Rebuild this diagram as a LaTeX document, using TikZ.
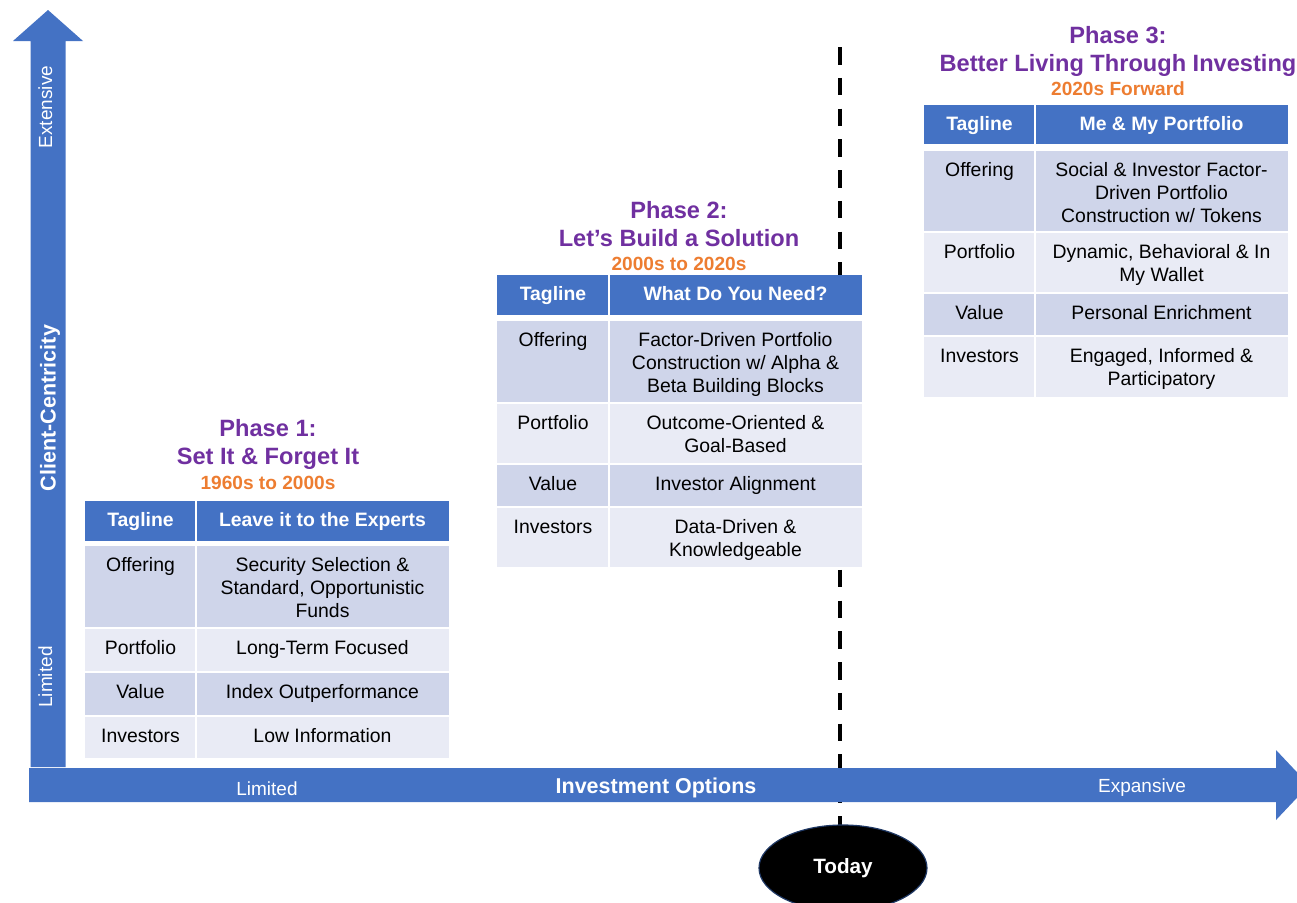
\documentclass[tikz,border=0pt]{standalone}
\usepackage{fontspec}
\setmainfont{Liberation Sans}
\usetikzlibrary{shapes.geometric}

\definecolor{axisblue}{HTML}{4472C4}
\definecolor{rowdark}{HTML}{CFD5EA}
\definecolor{rowlight}{HTML}{E9EBF5}
\definecolor{phasepurple}{HTML}{7030A0}
\definecolor{eraorange}{HTML}{ED7D31}
\definecolor{todayedge}{HTML}{1F3864}

\newcommand{\cellstrut}{\rule{0pt}{18pt}}

% one table row: name, left, divider, right, top, bottom, fill, label, value
\newcommand{\trow}[9]{%
  \fill[#7] (#2,#5) rectangle ({#3-1},#6);
  \fill[#7] ({#3+1},#5) rectangle (#4,#6);
  \node[celltext] (#1-l) at ({(#2+#3)/2},{#5+7.5}) {\cellstrut #8};
  \node[celltext] (#1-v) at ({(#3+#4)/2},{#5+7.5}) {\cellstrut #9};
}
% header row: name, left, divider, right, top, bottom, value
\newcommand{\thead}[7]{%
  \fill[axisblue] (#2,#5) rectangle ({#3-1},#6);
  \fill[axisblue] ({#3+1},#5) rectangle (#4,#6);
  \node[headtext] (#1-l) at ({(#2+#3)/2},{#5+7.5}) {\cellstrut Tagline};
  \node[headtext] (#1-v) at ({(#3+#4)/2},{#5+7.5}) {\cellstrut #7};
}

\tikzset{
  celltext/.style={anchor=north, inner sep=0pt, align=center,
    font=\fontsize{19.4}{23}\selectfont, text=black},
  headtext/.style={celltext, text=white, font=\fontsize{19.4}{23}\selectfont\bfseries},
  phasetitle/.style={anchor=base, inner sep=0pt, text=phasepurple,
    font=\fontsize{23.6}{28}\selectfont\bfseries},
  eratext/.style={anchor=base, inner sep=0pt, text=eraorange,
    font=\fontsize{19.1}{22}\selectfont\bfseries},
  axislabel/.style={anchor=base, inner sep=0pt, text=white,
    font=\fontsize{19}{22}\selectfont},
  axistitle/.style={anchor=base, inner sep=0pt, text=white,
    font=\fontsize{21.5}{25}\selectfont\bfseries},
  todayline/.style={line width=4pt, dash pattern=on 17.5pt off 13.26pt},
}

\begin{document}
\begin{tikzpicture}[x=1pt, y=-1pt]
\useasboundingbox (0,0) rectangle (1297,902);
\clip (0,0) rectangle (1297,902);

% "today" marker line
\coordinate (lineTop) at (840,47);
\coordinate (lineBot) at (840,830);
\draw[todayline] (lineTop) -- (lineBot);

% vertical axis: client-centricity
\fill[axisblue] (30.5,767) -- (30.5,41) -- (13,41) -- (48,10) -- (83,41) -- (65.5,41) -- (65.5,767) -- cycle;
% horizontal axis: investment options
\fill[axisblue] (29,768) -- (1276,768) -- (1276,750) -- (1309,785) -- (1276,820) -- (1276,802) -- (29,802) -- cycle;

\node[axislabel, rotate=90] (yhigh) at (52,107) {Extensive};
\node[axistitle, rotate=90] (ytitle) at (55.5,408) {Client-Centricity};
\node[axislabel, rotate=90] (ylow) at (52,677) {Limited};
\node[axislabel] (xlow) at (267,795) {Limited};
\node[axistitle] (xtitle) at (656,793) {Investment Options};
\node[axislabel] (xhigh) at (1142,792) {Expansive};

% Phase 1
\node[phasetitle] (p1a) at (268,436) {Phase 1:};
\node[phasetitle] (p1b) at (268,464) {Set It \& Forget It};
\node[eratext] (p1c) at (268,489) {1960s to 2000s};
\fill[white] (85,501) rectangle (449,758);
\thead{p1h}{85}{196}{449}{501}{541}{Leave it to the Experts}
\trow{p1o}{85}{196}{449}{546}{627}{rowdark}{Offering}{Security Selection \&\\Standard, Opportunistic\\Funds}
\trow{p1p}{85}{196}{449}{629}{671}{rowlight}{Portfolio}{Long-Term Focused}
\trow{p1v}{85}{196}{449}{673}{715}{rowdark}{Value}{Index Outperformance}
\trow{p1i}{85}{196}{449}{717}{758}{rowlight}{Investors}{Low Information}

% Phase 2
\node[phasetitle] (p2a) at (679,218) {Phase 2:};
\node[phasetitle] (p2b) at (679,246) {Let’s Build a Solution};
\node[eratext] (p2c) at (679,270) {2000s to 2020s};
\fill[white] (497,275) rectangle (862,567);
\thead{p2h}{497}{609}{862}{275}{315}{What Do You Need?}
\trow{p2o}{497}{609}{862}{321}{402}{rowdark}{Offering}{Factor-Driven Portfolio\\Construction w/ Alpha \&\\Beta Building Blocks}
\trow{p2p}{497}{609}{862}{404}{463}{rowlight}{Portfolio}{Outcome-Oriented \&\\Goal-Based}
\trow{p2v}{497}{609}{862}{465}{506}{rowdark}{Value}{Investor Alignment}
\trow{p2i}{497}{609}{862}{508}{567}{rowlight}{Investors}{Data-Driven \&\\Knowledgeable}

% Phase 3
\node[phasetitle] (p3a) at (1118,43.5) {Phase 3:};
\node[phasetitle] (p3b) at (1118,71) {Better Living Through Investing};
\node[eratext] (p3c) at (1118,95) {2020s Forward};
\fill[white] (924,105) rectangle (1288,397);
\thead{p3h}{924}{1035}{1288}{105}{144}{Me \& My Portfolio}
\trow{p3o}{924}{1035}{1288}{151}{231}{rowdark}{Offering}{Social \& Investor Factor-\\Driven Portfolio\\Construction w/ Tokens}
\trow{p3p}{924}{1035}{1288}{233}{292}{rowlight}{Portfolio}{Dynamic, Behavioral \& In\\My Wallet}
\trow{p3v}{924}{1035}{1288}{294}{335}{rowdark}{Value}{Personal Enrichment}
\trow{p3i}{924}{1035}{1288}{337}{397}{rowlight}{Investors}{Engaged, Informed \&\\Participatory}

% today marker
\node[ellipse, fill=black, draw=todayedge, line width=1.2pt, minimum width=168pt, minimum height=86pt,
  inner sep=0pt, text=white, font=\fontsize{20.7}{24}\selectfont\bfseries] (today) at (843,868) {Today};
\end{tikzpicture}
\end{document}
